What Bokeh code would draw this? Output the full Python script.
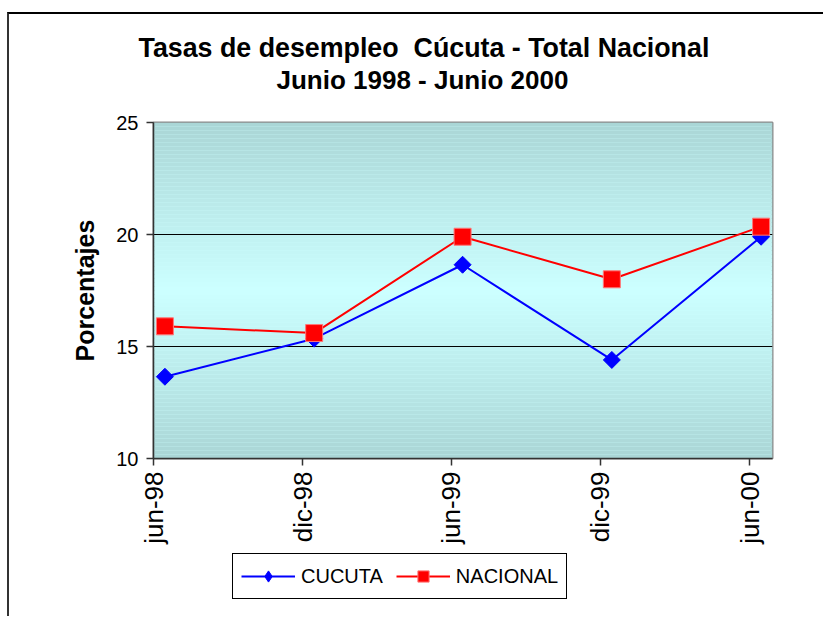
import math
import pandas as pd
from bokeh.plotting import figure
from bokeh.layouts import column
from bokeh.models import (FixedTicker, Range1d, Legend, LegendItem,
                          BoxAnnotation, Title)
from bokeh.embed import file_html
from bokeh.resources import INLINE

# ---- data ----
tick_dates = ["1998-06-01", "1998-12-01", "1999-06-01", "1999-12-01", "2000-06-01"]
tick_labels = ["jun-98", "dic-98", "jun-99", "dic-99", "jun-00"]
point_dates = ["1998-06-15", "1998-12-15", "1999-06-15", "1999-12-15", "2000-06-15"]
cucuta = [13.65, 15.35, 18.65, 14.4, 19.9]
nacional = [15.9, 15.6, 19.9, 18.0, 20.35]
series_names = ["CUCUTA", "NACIONAL"]
y_ticks = [10, 15, 20, 25]
grid_lines = [15, 20]

FONT = "Liberation Sans"
BLUE = "#0000ff"
RED = "#ff0000"

def ms(d):
    return pd.Timestamp(d).value / 1e6

xs = [pd.Timestamp(d) for d in point_dates]
tick_ms = [ms(d) for d in tick_dates]

p = figure(
    output_backend="svg", toolbar_location=None,
    x_axis_type="datetime",
    frame_width=619, frame_height=336,
    min_border_left=144, min_border_right=51,
    min_border_top=108, min_border_bottom=90,
    x_range=Range1d(ms("1998-06-01"), ms("2000-06-29")),
    y_range=Range1d(10, 25),
)
p.background_fill_color = "#ccffff"
p.border_fill_color = "white"
p.outline_line_color = "#8a8a8a"
p.outline_line_width = 2

# gradient background (top/bottom darker, centre light)
n = 84
top = (0xaa, 0xd6, 0xd6)
mid = (0xcc, 0xff, 0xff)
for i in range(n):
    y0 = 10 + 15 * i / n
    y1 = 10 + 15 * (i + 1) / n
    t = abs(((i + 0.5) / n) - 0.5) * 2
    c = tuple(int(round(mid[k] + (top[k] - mid[k]) * t)) for k in range(3))
    p.add_layout(BoxAnnotation(bottom=y0, top=y1, fill_color="#%02x%02x%02x" % c,
                               fill_alpha=1, line_alpha=0, level="image"))

# grid
p.xgrid.visible = False
p.ygrid.ticker = FixedTicker(ticks=grid_lines)
p.ygrid.grid_line_color = "black"
p.ygrid.grid_line_width = 1
p.ygrid.level = "underlay"

# axes
p.yaxis.ticker = FixedTicker(ticks=y_ticks)
p.xaxis.ticker = FixedTicker(ticks=tick_ms)
p.xaxis.major_label_overrides = {t: l for t, l in zip(tick_ms, tick_labels)}
p.xaxis.major_label_orientation = math.pi / 2
for ax in (p.xaxis, p.yaxis):
    ax.axis_line_color = "#333333"
    ax.axis_line_width = 1.5
    ax.major_tick_line_color = "#333333"
    ax.major_tick_line_width = 1.5
    ax.major_tick_out = 7
    ax.major_tick_in = 0
    ax.minor_tick_line_color = None
    ax.major_label_text_font = FONT
    ax.major_label_text_color = "black"
p.yaxis.major_label_text_font_size = "20px"
p.yaxis.major_label_standoff = 8
p.xaxis.major_label_text_font_size = "26px"
p.xaxis.major_label_standoff = 6
p.yaxis.axis_label = "Porcentajes"
p.yaxis.axis_label_text_font = FONT
p.yaxis.axis_label_text_font_style = "bold"
p.yaxis.axis_label_text_font_size = "25px"
p.yaxis.axis_label_text_color = "black"
p.yaxis.axis_label_standoff = 14

# series
p.line(xs, cucuta, line_color=BLUE, line_width=2)
p.scatter(xs, cucuta, marker="square", angle=math.pi / 4, size=12,
          fill_color=BLUE, line_color=BLUE)
p.line(xs, nacional, line_color=RED, line_width=2)
p.scatter(xs, nacional, marker="square", size=17,
          fill_color=RED, line_color="#ff7777", line_width=1)

# title (panels stack outward from the plot: spacer, line 2, line 1)
spacer = Title(text=" ", text_font_size="1px", standoff=25)
t2 = Title(text="Junio 1998 - Junio 2000", align="left", offset=123,
           text_font=FONT, text_font_style="bold", text_font_size="26px",
           text_color="black", standoff=0)
t1 = Title(text="Tasas de desempleo\u00a0 Cúcuta - Total Nacional", align="left",
           offset=-15, text_font=FONT, text_font_style="bold",
           text_font_size="26.8px", text_color="black", standoff=0)
p.add_layout(spacer, "above")
p.add_layout(t2, "above")
p.add_layout(t1, "above")

# legend strip below the chart (its own small canvas so nothing is clipped)
q = figure(output_backend="svg", toolbar_location=None,
           width=814, height=68, min_border=0,
           x_range=Range1d(0, 1), y_range=Range1d(0, 1),
           x_axis_location=None, y_axis_location=None)
q.grid.visible = False
q.outline_line_color = None
q.background_fill_color = "white"
q.border_fill_color = "white"
lc = q.line(x=[-5], y=[-5], line_color=BLUE, line_width=2)
mc = q.scatter(x=[-5], y=[-5], marker="diamond", size=19,
               fill_color=BLUE, line_color=BLUE)
ln = q.line(x=[-5], y=[-5], line_color=RED, line_width=2)
mn = q.scatter(x=[-5], y=[-5], marker="square", size=15,
               fill_color=RED, line_color="#ff7777", line_width=1)
legend = Legend(items=[LegendItem(label=series_names[0], renderers=[lc, mc]),
                       LegendItem(label=series_names[1], renderers=[ln, mn])],
                orientation="horizontal", location=(79, 17))
legend.label_text_font = FONT
legend.label_text_font_size = "20px"
legend.label_text_color = "black"
legend.glyph_width = 54
legend.glyph_height = 28
legend.label_standoff = 6
legend.spacing = 13
legend.padding = 8
legend.margin = 0
legend.border_line_color = "black"
legend.border_line_width = 1
legend.border_line_alpha = 1
legend.background_fill_color = "white"
legend.background_fill_alpha = 1
q.add_layout(legend, "center")

layout = column(p, q, spacing=0)
layout.styles = {"margin-top": "12px", "margin-left": "7px",
                 "border-left": "2px solid #333333",
                 "border-top": "2px solid #000000"}

open("out.html", "w").write(file_html(layout, INLINE))
